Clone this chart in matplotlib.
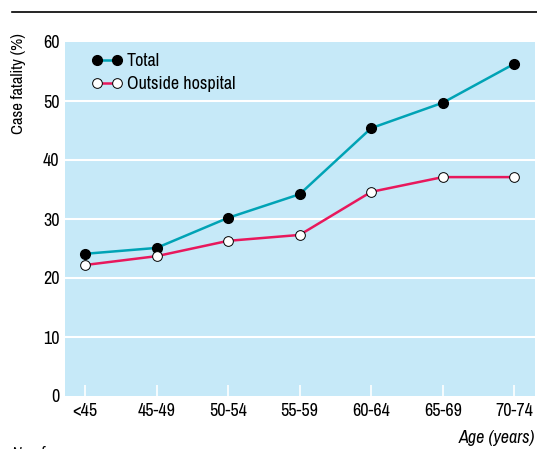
import matplotlib
matplotlib.use("Agg")
import matplotlib.pyplot as plt
import numpy as np

age_groups = ["<45", "45-49", "50-54", "55-59", "60-64", "65-69", "70-74"]
total = [24.1, 25.1, 30.2, 34.2, 45.4, 49.7, 56.3]
outside_hospital = [22.2, 23.7, 26.3, 27.3, 34.6, 37.1, 37.1]
y_ticks = [0, 10, 20, 30, 40, 50, 60]

plt.rcParams["font.family"] = ["Archivo Narrow", "DejaVu Sans"]

BG = "#c6e9f8"
TEAL = "#00a3b5"
PINK = "#e8185c"

fig = plt.figure(figsize=(5.37, 4.49), dpi=100)
ax = fig.add_axes([65 / 537, 1 - 396 / 449, 470 / 537, 354 / 449])
ax.set_facecolor(BG)

x = np.arange(len(age_groups))
ax.plot(x, total, color=TEAL, lw=1.8, marker="o", ms=7, mfc="black", mec="black",
        label="Total", zorder=3, clip_on=False)
ax.plot(x, outside_hospital, color=PINK, lw=1.8, marker="o", ms=7, mfc="white", mec="black",
        mew=0.7, label="Outside hospital", zorder=3, clip_on=False)

ax.set_xlim(-0.28, 6.29)
ax.set_ylim(0, 60)
ax.set_yticks(y_ticks)
ax.set_xticks(x)
ax.set_xticklabels(age_groups)
for v in y_ticks[1:-1]:
    ax.axhline(v, color="white", lw=1.5, zorder=1)

ax.tick_params(axis="y", length=0, labelsize=13, pad=4)
ax.tick_params(axis="x", direction="in", length=8, width=1.2, color="white",
               labelsize=13, pad=5)
for s in ax.spines.values():
    s.set_visible(False)

fig.text(19 / 537, 1 - 33 / 449, "Case fatality (%)", fontsize=12, rotation=90,
         ha="center", va="top")
fig.text(535 / 537, 1 - 438 / 449, "Age (years)", fontsize=13, style="italic",
         ha="right", va="center")
# caption below the chart, cut off by the figure edge as in the source
fig.text(12 / 537, 1 - 446 / 449, "No of", fontsize=12, style="italic",
         ha="left", va="top")

leg = ax.legend(loc="upper left", bbox_to_anchor=(0.03, 1.005), frameon=False,
                fontsize=13, numpoints=2, handlelength=1.7, handletextpad=0.25,
                labelspacing=0.4, borderaxespad=0.3)

fig.add_artist(plt.Line2D([12 / 537, 1], [1 - 12 / 449, 1 - 12 / 449],
                          color="black", lw=1.2))

fig.savefig("out.png", dpi=100)
